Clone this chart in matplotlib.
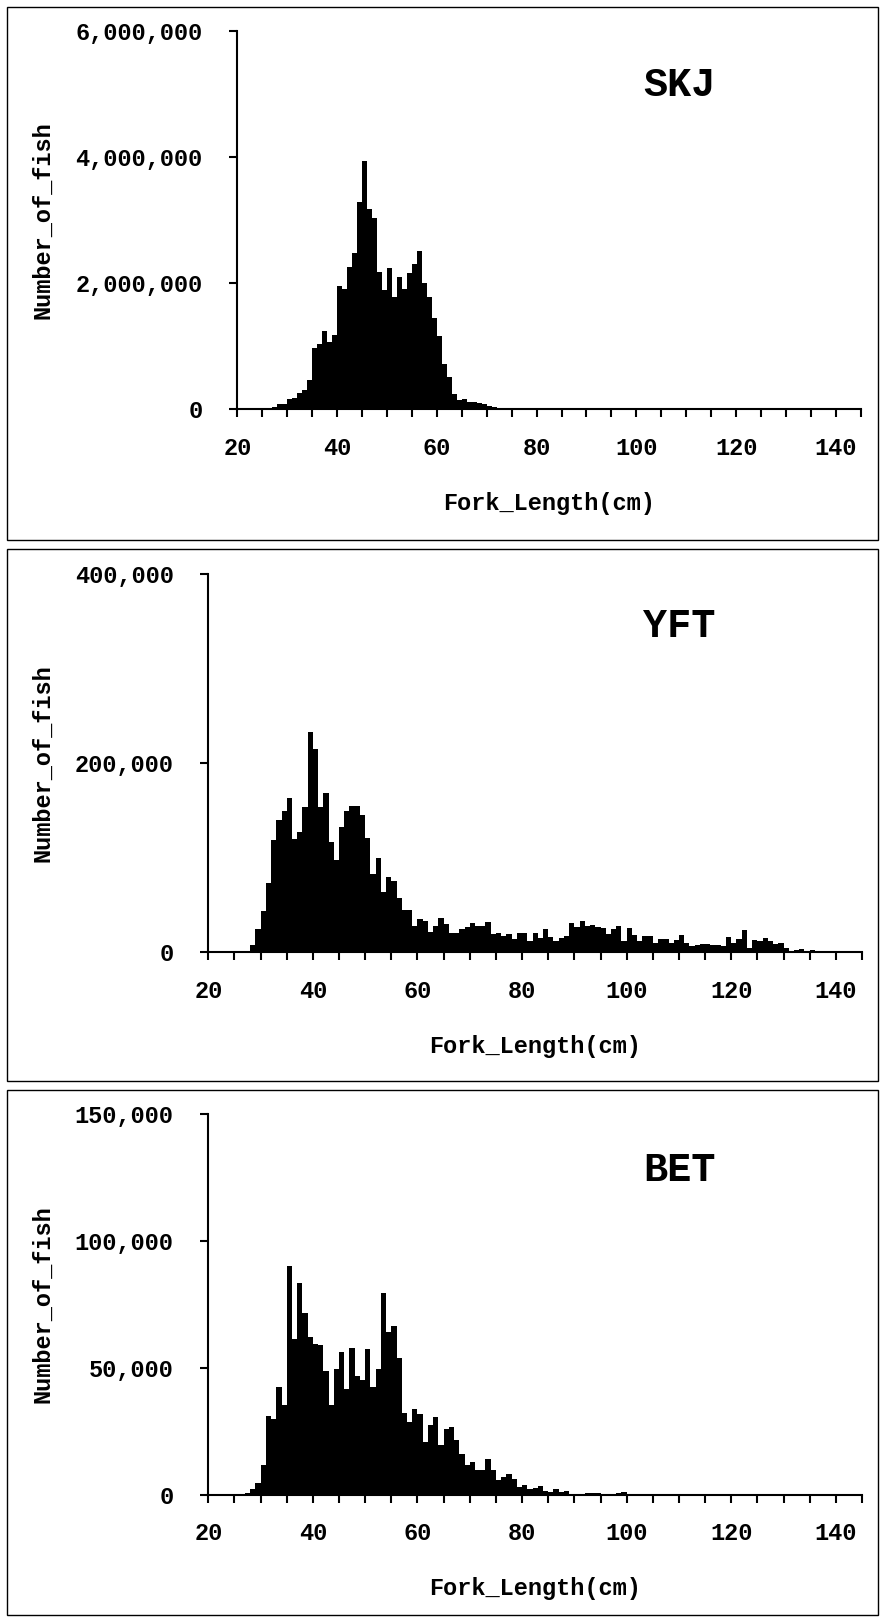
import numpy as np
import matplotlib
matplotlib.use("Agg")
import matplotlib.pyplot as plt
from matplotlib.patches import Rectangle
from matplotlib.ticker import StrMethodFormatter

plt.rcParams['font.family'] = ['Liberation Mono', 'DejaVu Sans']
plt.rcParams['font.weight'] = 'bold'

# number of fish per 1 cm fork-length class, first class given by *_start
skj_start = 25
skj = [10000, 21000, 43000, 80000, 80000, 170000, 186000, 255000, 309000, 458000,
       974000, 1037000, 1240000, 1064000, 1181000, 1958000, 1915000, 2266000, 2474000, 3288000,
       3937000, 3181000, 3032000, 2181000, 1894000, 2250000, 1788000, 2107000, 1915000, 2171000,
       2304000, 2516000, 2011000, 1782000, 1452000, 1160000, 718000, 511000, 245000, 149000,
       165000, 117000, 117000, 96000, 80000, 53000, 37000, 16000, 5000]

yft_start = 25
yft = [700, 400, 700, 7500, 24000, 43000, 73000, 118000, 140000, 149000,
       163000, 120000, 127000, 153000, 233000, 215000, 153000, 168000, 116000, 97000,
       132000, 149000, 154000, 154000, 145000, 121000, 82000, 99000, 63000, 79000,
       75000, 57000, 44000, 44000, 28000, 35000, 33000, 21000, 28000, 36000,
       30000, 20000, 20000, 24000, 26000, 31000, 28000, 27000, 32000, 19000,
       20000, 17000, 19000, 14000, 20000, 20000, 12000, 20000, 15000, 24000,
       16000, 12000, 15000, 17000, 31000, 26000, 33000, 28000, 29000, 26000,
       25000, 19000, 24000, 28000, 12000, 25000, 18000, 12000, 17000, 17000,
       9000, 14000, 14000, 9000, 13000, 18000, 10000, 6000, 7000, 8000,
       8000, 7000, 7000, 6000, 16000, 9000, 14000, 23000, 4000, 13000,
       12000, 15000, 12000, 8000, 9000, 4000, 1000, 2000, 3000, 1000, 2000]

bet_start = 27
bet = [700, 2200, 4500, 11800, 31000, 29600, 42500, 35300, 89900, 61200,
       83200, 71700, 61900, 59500, 58800, 48700, 35300, 49600, 56300, 41500,
       57900, 46700, 45000, 57400, 42500, 49600, 79600, 64100, 66500, 53800,
       32200, 28600, 33600, 31600, 20800, 27400, 30500, 19700, 25900, 26800,
       21300, 16100, 11600, 12900, 9600, 9800, 13800, 9600, 5900, 7000,
       7900, 6300, 2800, 3900, 2000, 2400, 3300, 1300, 800, 2000,
       800, 1300, 0, 100, 100, 400, 400, 400, 100, 100,
       100, 400, 800]

species = ["SKJ", "YFT", "BET"]
starts = [skj_start, yft_start, bet_start]
counts = [skj, yft, bet]
y_max = [6000000, 400000, 150000]
y_step = [2000000, 200000, 50000]

W, H = 881, 1620
fig = plt.figure(figsize=(W / 100, H / 100), dpi=100)

# pixel layout: axes box, panel frame, title centre y
axes_px = [(237.3, 31.3, 860.8, 409.3), (208.3, 573.7, 862, 952), (208.3, 1114, 862, 1494.5)]
frame_px = [(7, 7, 878, 540), (7, 549, 878, 1080.5), (7, 1090, 878, 1614.5)]
title_y = [85, 626, 1170]

for i in range(3):
    x0, y0, x1, y1 = axes_px[i]
    ax = fig.add_axes([x0 / W, 1 - y1 / H, (x1 - x0) / W, (y1 - y0) / H])
    lengths = np.arange(starts[i], starts[i] + len(counts[i]))
    ax.bar(lengths, counts[i], width=1, align='edge', color='black', linewidth=0)

    ax.set_xlim(20, 145)
    ax.set_ylim(0, y_max[i])
    xt = np.arange(20, 146, 5)
    ax.set_xticks(xt)
    ax.set_xticklabels([str(t) if t % 20 == 0 else '' for t in xt])
    ax.set_yticks(np.arange(0, y_max[i] + 1, y_step[i]))
    ax.yaxis.set_major_formatter(StrMethodFormatter('{x:,.0f}'))

    for s in ['top', 'right']:
        ax.spines[s].set_visible(False)
    for s in ['left', 'bottom']:
        ax.spines[s].set_linewidth(1.5)
    ax.tick_params(direction='out', length=6, width=1.5, labelsize=17)
    ax.tick_params(axis='x', pad=14)
    ax.tick_params(axis='y', pad=19)

    ax.set_xlabel('Fork_Length(cm)', fontsize=17, fontweight='bold', va='center')
    ax.xaxis.set_label_coords(0.5, -94 / (y1 - y0))
    ax.set_ylabel('Number_of_fish', fontsize=17, fontweight='bold', va='center')
    ax.yaxis.set_label_coords(-(x0 - 43) / (x1 - x0), 0.5)

    fig.text(679 / W, 1 - title_y[i] / H, species[i], fontsize=29, fontweight='bold',
             ha='center', va='center')

    fx0, fy0, fx1, fy1 = frame_px[i]
    fig.add_artist(Rectangle((fx0 / W, 1 - fy1 / H), (fx1 - fx0) / W, (fy1 - fy0) / H,
                             transform=fig.transFigure, fill=False, lw=1, ec='black'))

fig.savefig('out.png', dpi=100)
